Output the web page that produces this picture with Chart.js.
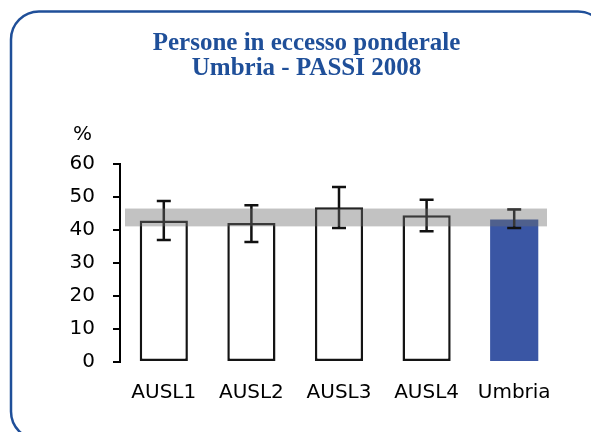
<!DOCTYPE html>
<html>
<head>
<meta charset="utf-8">
<script src="https://cdn.jsdelivr.net/npm/chart.js@4.4.1/dist/chart.umd.min.js"></script>
<style>
  html, body { margin: 0; padding: 0; background: #fff; }
  #wrap { width: 591px; height: 432px; position: relative; }
</style>
</head>
<body>
<div id="wrap"><canvas id="c" width="591" height="432"></canvas></div>
<script>
const titleLines = ['Persone in eccesso ponderale', 'Umbria - PASSI 2008'];
const yUnit = '%';
const categories = ['AUSL1', 'AUSL2', 'AUSL3', 'AUSL4', 'Umbria'];
const values  = [42.9, 42.1, 46.9, 44.5, 43.2];
const errLow  = [37.0, 36.4, 40.6, 39.6, 40.6];
const errHigh = [48.8, 47.5, 53.0, 49.2, 46.2];
const band    = [41.1, 46.5];
const yRange  = [0, 60];
const yStep   = 10;

const fills   = ['#ffffff', '#ffffff', '#ffffff', '#ffffff', '#3a56a4'];
const borders = ['#141414', '#141414', '#141414', '#141414', 'rgba(0,0,0,0)'];
const bWidths = [2.5, 2.5, 2.5, 2.5, 0];

const decor = {
  id: 'decor',
  beforeDraw(chart) {
    const ctx = chart.ctx;
    ctx.save();
    ctx.fillStyle = '#ffffff';
    ctx.fillRect(0, 0, chart.width, chart.height);
    ctx.strokeStyle = '#1f4f99';
    ctx.lineWidth = 2.5;
    ctx.beginPath();
    ctx.roundRect(11, 11.5, 595, 428, 28);
    ctx.stroke();
    ctx.fillStyle = '#1f4f99';
    ctx.font = 'bold 25px "Liberation Serif"';
    ctx.textAlign = 'center';
    ctx.textBaseline = 'alphabetic';
    ctx.fillText(titleLines[0], 306.5, 49.5);
    ctx.fillText(titleLines[1], 306.5, 75);
    ctx.fillStyle = '#000000';
    ctx.font = '20px "DejaVu Sans"';
    ctx.textBaseline = 'middle';
    ctx.fillText(yUnit, 82.5, 135);
    ctx.restore();
  },
  afterDatasetsDraw(chart) {
    const ctx = chart.ctx;
    const ys = chart.scales.y;
    const meta = chart.getDatasetMeta(0);
    ctx.save();
    ctx.strokeStyle = '#111111';
    ctx.lineWidth = 2.5;
    meta.data.forEach((bar, i) => {
      const x = bar.x;
      const yH = ys.getPixelForValue(errHigh[i]);
      const yL = ys.getPixelForValue(errLow[i]);
      ctx.beginPath();
      ctx.moveTo(x, yH); ctx.lineTo(x, yL);
      ctx.moveTo(x - 7, yH); ctx.lineTo(x + 7, yH);
      ctx.moveTo(x - 7, yL); ctx.lineTo(x + 7, yL);
      ctx.stroke();
    });
    const b1 = ys.getPixelForValue(band[1]);
    const b0 = ys.getPixelForValue(band[0]);
    ctx.fillStyle = 'rgba(110,110,110,0.42)';
    ctx.fillRect(125, b1, 547 - 125, b0 - b1);
    ctx.restore();
  }
};

new Chart(document.getElementById('c'), {
  type: 'bar',
  data: {
    labels: categories,
    datasets: [{
      data: values,
      backgroundColor: fills,
      borderColor: borders,
      borderWidth: bWidths,
      borderSkipped: false,
      barPercentage: 0.55,
      categoryPercentage: 1.0
    }]
  },
  options: {
    responsive: false,
    animation: false,
    devicePixelRatio: 1,
    layout: { padding: { top: 164, right: 33, bottom: 8, left: 0 } },
    plugins: { legend: { display: false }, tooltip: { enabled: false }, title: { display: false } },
    scales: {
      x: {
        grid: { display: false, drawTicks: false },
        border: { display: false },
        ticks: { color: '#000', font: { family: 'DejaVu Sans', size: 20 }, padding: 19 }
      },
      y: {
        min: yRange[0], max: yRange[1],
        ticks: { stepSize: yStep, color: '#000', font: { family: 'DejaVu Sans', size: 20 }, padding: 18 },
        grid: { drawOnChartArea: false, drawTicks: true, tickLength: 7, color: '#000', lineWidth: 2 },
        border: { display: true, color: '#000', width: 2 },
        afterFit(s) { s.width = 120; }
      }
    }
  },
  plugins: [decor]
});
</script>
</body>
</html>
